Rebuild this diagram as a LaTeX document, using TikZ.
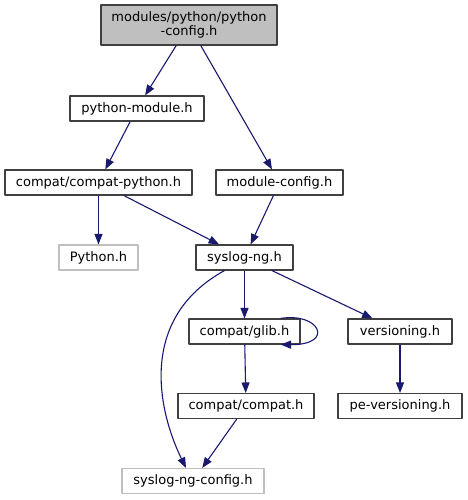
\documentclass[tikz,border=0pt]{standalone}
\usepackage{fontspec}
\setmainfont{DejaVu Sans}
\usetikzlibrary{arrows.meta}
\definecolor{edgeblue}{HTML}{191970}
\definecolor{nodegrey}{HTML}{BFBFBF}
\definecolor{boxline}{HTML}{404040}

\begin{document}
\begin{tikzpicture}[x=1pt,y=-1pt,>={Triangle[length=10.5pt,width=8pt]},line join=round,
  box/.style={draw=boxline,line width=1.1pt,inner sep=0pt,minimum height=25pt,font=\fontsize{13}{14}\selectfont},
  ghost/.style={box,draw=nodegrey},
  edge/.style={->,draw=edgeblue,fill=none,line width=1.1pt}]
\useasboundingbox (0,0) rectangle (467,500);
\node[box,fill=nodegrey,minimum width=176pt,minimum height=40pt,align=center] (top) at (189,25) {modules/python/python\\-config.h};
\node[box,minimum width=134pt] (pymod) at (137,108.5) {python-module.h};
\node[box,minimum width=187pt] (cpython) at (98.5,182.5) {compat/compat-python.h};
\node[box,minimum width=127pt] (modconf) at (279.5,182.5) {module-config.h};
\node[ghost,minimum width=79pt] (python) at (98.5,257.5) {Python.h};
\node[box,minimum width=97pt] (syslog) at (244.5,257.5) {syslog-ng.h};
\node[box,minimum width=111pt] (glib) at (244.5,331.5) {compat/glib.h};
\node[box,minimum width=104pt] (vers) at (400,331.5) {versioning.h};
\node[box,minimum width=136pt] (compat) at (246,406) {compat/compat.h};
\node[box,minimum width=124pt] (pevers) at (400,406) {pe-versioning.h};
\node[ghost,minimum width=142pt] (sngconf) at (193,481) {syslog-ng-config.h};
% includes
\draw[edge] (top) -- (pymod);
\draw[edge] (top) -- (modconf);
\draw[edge] (pymod) -- (cpython);
\draw[edge] (cpython) -- (python);
\draw[edge] (cpython) -- (syslog);
\draw[edge] (modconf) -- (syslog);
\draw[edge] (syslog) -- (glib);
\draw[edge] (syslog) -- (vers);
\draw[edge] ([xshift=-20pt]syslog.south) .. controls (135,320) and (160,415) .. ([xshift=-7pt]sngconf.north);
\draw[edge] ([xshift=-20pt]glib.north east) .. controls (320,312) and (335,345) .. ([xshift=-20pt]glib.south east);
\draw[edge] (glib) -- (compat);
\draw[edge] (vers) -- (pevers);
\draw[edge] (compat) -- (sngconf);
\end{tikzpicture}
\end{document}
